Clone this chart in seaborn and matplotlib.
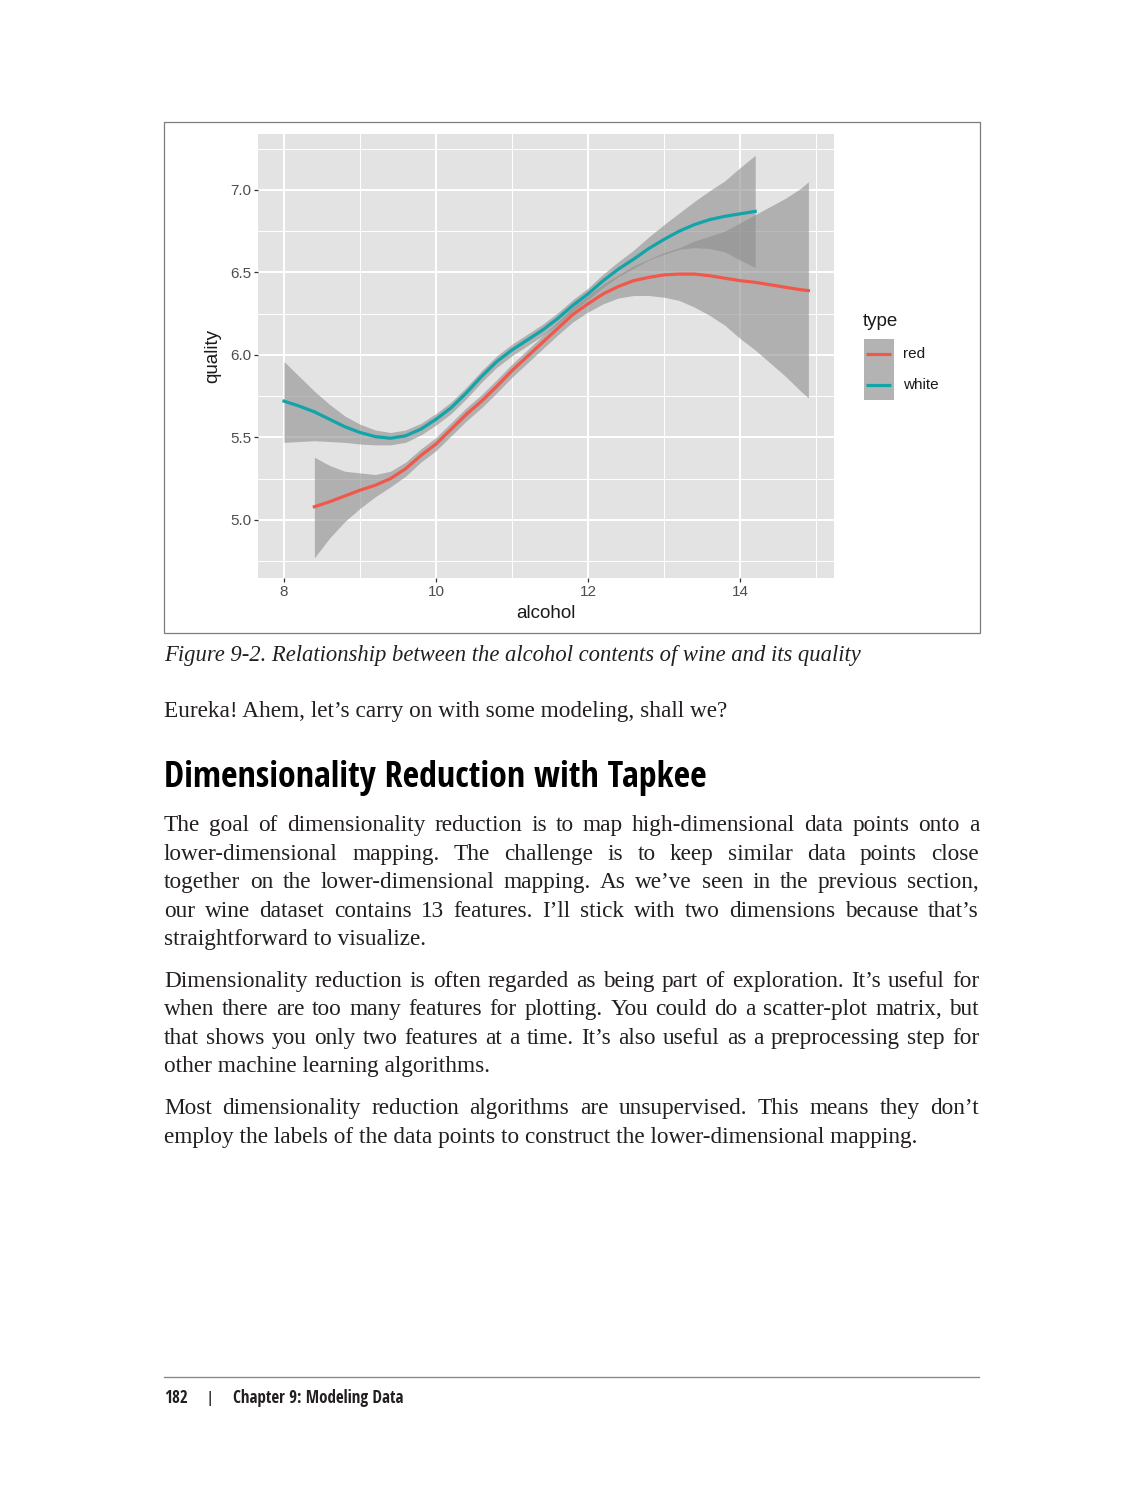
import matplotlib
matplotlib.use('Agg')
import matplotlib.pyplot as plt
import matplotlib.font_manager as fm
from matplotlib.font_manager import FontProperties
from matplotlib.patches import Rectangle
import seaborn as sns
import pandas as pd

# ---------------- data ----------------
wine_types = ['red', 'white']
type_colors = ['#F0584C', '#12A4A8']

white_alcohol = [8.0, 8.2, 8.4, 8.6, 8.8, 9.0, 9.2, 9.4, 9.6, 9.8, 10.0, 10.2, 10.4, 10.6, 10.8,
                 11.0, 11.2, 11.4, 11.6, 11.8, 12.0, 12.2, 12.4, 12.6, 12.8, 13.0, 13.2, 13.4,
                 13.6, 13.8, 14.0, 14.2]
white_quality = [5.72, 5.69, 5.655, 5.61, 5.565, 5.53, 5.505, 5.495, 5.51, 5.55, 5.61, 5.68,
                 5.77, 5.87, 5.96, 6.03, 6.09, 6.15, 6.22, 6.30, 6.37, 6.45, 6.52, 6.58, 6.645,
                 6.70, 6.75, 6.79, 6.82, 6.84, 6.855, 6.87]
white_lower = [5.47, 5.475, 5.48, 5.475, 5.47, 5.46, 5.455, 5.455, 5.47, 5.515, 5.575, 5.645,
               5.735, 5.835, 5.925, 5.995, 6.055, 6.115, 6.185, 6.265, 6.335, 6.41, 6.475,
               6.525, 6.575, 6.61, 6.64, 6.65, 6.645, 6.625, 6.575, 6.53]
white_upper = [5.96, 5.87, 5.78, 5.70, 5.63, 5.58, 5.545, 5.53, 5.545, 5.585, 5.645, 5.715,
               5.805, 5.905, 5.995, 6.065, 6.125, 6.185, 6.255, 6.335, 6.405, 6.49, 6.565,
               6.635, 6.715, 6.79, 6.86, 6.93, 6.995, 7.055, 7.135, 7.21]

red_alcohol = [8.4, 8.6, 8.8, 9.0, 9.2, 9.4, 9.6, 9.8, 10.0, 10.2, 10.4, 10.6, 10.8, 11.0, 11.2,
               11.4, 11.6, 11.8, 12.0, 12.2, 12.4, 12.6, 12.8, 13.0, 13.2, 13.4, 13.6, 13.8,
               14.0, 14.2, 14.4, 14.6, 14.8, 14.9]
red_quality = [5.08, 5.11, 5.145, 5.18, 5.21, 5.25, 5.31, 5.39, 5.46, 5.55, 5.64, 5.72, 5.81,
               5.905, 5.99, 6.075, 6.16, 6.245, 6.31, 6.37, 6.415, 6.45, 6.47, 6.485, 6.49,
               6.49, 6.48, 6.465, 6.45, 6.44, 6.425, 6.41, 6.395, 6.39]
red_lower = [4.77, 4.89, 4.99, 5.07, 5.14, 5.20, 5.265, 5.35, 5.42, 5.51, 5.60, 5.68, 5.77,
             5.865, 5.95, 6.035, 6.12, 6.20, 6.26, 6.31, 6.345, 6.36, 6.36, 6.35, 6.33, 6.29,
             6.24, 6.18, 6.10, 6.03, 5.95, 5.87, 5.78, 5.74]
red_upper = [5.38, 5.33, 5.295, 5.285, 5.275, 5.295, 5.35, 5.43, 5.50, 5.59, 5.68, 5.76, 5.85,
             5.945, 6.03, 6.115, 6.20, 6.29, 6.36, 6.43, 6.485, 6.54, 6.58, 6.62, 6.65, 6.69,
             6.72, 6.75, 6.80, 6.85, 6.90, 6.95, 7.01, 7.05]

x_ticks = [8, 10, 12, 14]
x_minor = [9, 11, 13, 15]
y_ticks = [5.0, 5.5, 6.0, 6.5, 7.0]
y_minor = [4.75, 5.25, 5.75, 6.25, 6.75, 7.25]
x_label = 'alcohol'
y_label = 'quality'
legend_title = 'type'

caption = 'Figure 9-2. Relationship between the alcohol contents of wine and its quality'
intro = 'Eureka! Ahem, let\u2019s carry on with some modeling, shall we?'
heading = 'Dimensionality Reduction with Tapkee'
paragraphs = [
    ['The goal of dimensionality reduction is to map high-dimensional data points onto a',
     'lower-dimensional mapping. The challenge is to keep similar data points close',
     'together on the lower-dimensional mapping. As we\u2019ve seen in the previous section,',
     'our wine dataset contains 13 features. I\u2019ll stick with two dimensions because that\u2019s',
     'straightforward to visualize.'],
    ['Dimensionality reduction is often regarded as being part of exploration. It\u2019s useful for',
     'when there are too many features for plotting. You could do a scatter-plot matrix, but',
     'that shows you only two features at a time. It\u2019s also useful as a preprocessing step for',
     'other machine learning algorithms.'],
    ['Most dimensionality reduction algorithms are unsupervised. This means they don\u2019t',
     'employ the labels of the data points to construct the lower-dimensional mapping.'],
]
paragraph_baselines = [[831, 860, 888, 917, 945], [987, 1015, 1044, 1072], [1114, 1143]]
footer_page = '182'
footer_chapter = 'Chapter 9: Modeling Data'

# ---------------- figure ----------------
W, H, DPI = 1142, 1500, 100
plt.rcParams['font.family'] = ['Liberation Sans', 'DejaVu Sans']
fig = plt.figure(figsize=(W / DPI, H / DPI), dpi=DPI)
fig.patch.set_facecolor('white')

page = fig.add_axes([0, 0, 1, 1])
page.set_xlim(0, W)
page.set_ylim(H, 0)
page.set_axis_off()

renderer = fig.canvas.get_renderer()


def _weight(w):
    if isinstance(w, (int, float)):
        return w
    return {'bold': 700, 'semibold': 600, 'demibold': 600, 'heavy': 800, 'black': 900,
            'extra bold': 800}.get(str(w).lower(), 400)


def find_condensed_bold():
    order = ['Liberation Sans Narrow', 'Noto Sans', 'Open Sans', 'Roboto', 'Lato', 'Inter',
             'DejaVu Sans']
    best = None
    for f in fm.fontManager.ttflist:
        stretch = str(f.stretch).lower()
        cond = ('condensed' in stretch and 'extra' not in stretch and 'ultra' not in stretch) \
            or 'Narrow' in f.name or 'Condensed' in f.name
        if not cond or _weight(f.weight) < 600 or 'italic' in str(f.style).lower():
            continue
        rank = len(order)
        for i, n in enumerate(order):
            if f.name.startswith(n):
                rank = i
                break
        if best is None or rank < best[0]:
            best = (rank, f.fname)
    if best is not None:
        return FontProperties(fname=best[1])
    return FontProperties(family='DejaVu Sans', weight='bold', stretch='condensed')


COND_FP = find_condensed_bold()
COND = dict(fontproperties=COND_FP)
SERIF = dict(family='Liberation Serif')


def text_width(s, size, **kw):
    t = page.text(0, 0, s, **kw)
    t.set_fontsize(size)
    w = t.get_window_extent(renderer).width
    t.remove()
    return w


def fit_size(s, target, **kw):
    return 20 * target / text_width(s, 20, **kw)


def put(x, y, s, size, color='#231F20', **kw):
    t = page.text(x, y, s, va='baseline', ha='left', color=color, **kw)
    t.set_fontsize(size)
    return t


def justify(line, y, size, x0=164, x1=979, **kw):
    words = line.split(' ')
    widths = [text_width(w, size, **kw) for w in words]
    gap = (x1 - x0 - sum(widths)) / (len(words) - 1)
    x = x0
    for w, wd in zip(words, widths):
        put(x, y, w, size, **kw)
        x += wd + gap


# chart border
page.add_patch(Rectangle((164, 122), 816, 511, fill=False, ec='#7c7c7c', lw=0.9))

# ---------------- chart ----------------
ax = fig.add_axes([258 / W, 1 - 578 / H, (834 - 258) / W, (578 - 134) / H])
ax.set_facecolor('#E3E3E3')
ax.set_xlim(7.658, 15.237)
ax.set_ylim(4.648, 7.339)
for s in ax.spines.values():
    s.set_visible(False)
ax.set_axisbelow(True)
ax.set_xticks(x_ticks)
ax.set_xticklabels([str(v) for v in x_ticks])
ax.set_yticks(y_ticks)
ax.set_yticklabels([f'{v:.1f}' for v in y_ticks])
ax.set_xticks(x_minor, minor=True)
ax.set_yticks(y_minor, minor=True)
ax.grid(which='major', color='white', lw=1.4)
ax.grid(which='minor', color='white', lw=0.7)
ax.tick_params(which='major', length=2.9, width=0.9, color='#333333', pad=2,
               labelsize=11, labelcolor='#4D4D4D')
ax.tick_params(which='minor', length=0)

series = {
    'red': (red_alcohol, red_quality, red_lower, red_upper),
    'white': (white_alcohol, white_quality, white_lower, white_upper),
}
z = 2
for t, col in zip(wine_types, type_colors):
    xa, q, lo, hi = series[t]
    df = pd.DataFrame({'alcohol': xa, 'quality': q, 'lower': lo, 'upper': hi, 'type': t})
    ax.fill_between(df['alcohol'], df['lower'], df['upper'], color='#8e8e8e', alpha=0.6,
                    lw=0, zorder=z)
    sns.lineplot(data=df, x='alcohol', y='quality', color=col, lw=2.3, ax=ax,
                 estimator=None, sort=True, legend=False, zorder=z + 1)
    z += 2
ax.set_xlabel('')
ax.set_ylabel('')

# axis titles
page.text(546, 613, x_label, ha='center', va='center', fontsize=13.5, color='#1a1a1a')
page.text(213, 356, y_label, ha='center', va='center', fontsize=13.5, color='#1a1a1a',
          rotation=90)

# legend
page.text(863, 321, legend_title, ha='left', va='center', fontsize=13.5, color='#1a1a1a')
page.add_patch(Rectangle((864, 339), 30, 61, color='#B3B3B3', lw=0))
for i, (t, col) in enumerate(zip(wine_types, type_colors)):
    yc = 354 + 31 * i
    page.plot([866, 891], [yc, yc], color=col, lw=2.3, solid_capstyle='butt')
    page.text(903, yc, t, ha='left', va='center', fontsize=11, color='#1a1a1a')

# ---------------- page text ----------------
cap_kw = dict(family='Liberation Serif', fontstyle='italic')
cs = fit_size(caption, 698, **cap_kw)
put(164, 661, caption, cs, **cap_kw)

bs = fit_size(intro, 563, **SERIF)
put(164, 717, intro, bs, **SERIF)

hs = fit_size(heading, 542, **COND)
put(164, 787, heading, hs, color='black', **COND)

for para, bases in zip(paragraphs, paragraph_baselines):
    for k, (line, yb) in enumerate(zip(para, bases)):
        if k < len(para) - 1:
            justify(line, yb, bs, **SERIF)
        else:
            put(164, yb, line, bs, **SERIF)

# footer
page.plot([164, 979], [1377, 1377], color='#8a8a8a', lw=1.0)
fs = fit_size(footer_chapter, 170, **COND)
put(164, 1403, footer_page, fs, **COND)
t = page.text(210, 1403, '|', va='baseline', ha='center', color='#231F20',
              family='Liberation Sans')
t.set_fontsize(fs)
put(233, 1403, footer_chapter, fs, **COND)

fig.savefig('out.png', dpi=DPI, facecolor='white')
